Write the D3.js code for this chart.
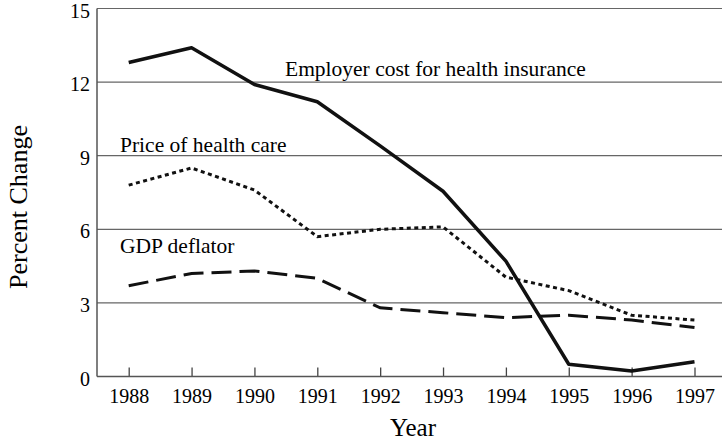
<!DOCTYPE html>
<html>
<head>
<meta charset="utf-8">
<script src="https://cdn.jsdelivr.net/npm/d3@7"></script>
<style>
  body { margin: 0; background: #fff; }
  svg { display: block; font-family: "Liberation Serif", "DejaVu Serif", serif; }
</style>
</head>
<body>
<div id="chart"></div>
<script>
const years = [1988, 1989, 1990, 1991, 1992, 1993, 1994, 1995, 1996, 1997];
const employerCost = [12.8, 13.4, 11.9, 11.2, 9.4, 7.55, 4.7, 0.5, 0.22, 0.6];
const healthPrice = [7.8, 8.5, 7.6, 5.7, 6.0, 6.1, 4.05, 3.5, 2.5, 2.3];
const gdpDeflator = [3.7, 4.2, 4.3, 4.0, 2.8, 2.6, 2.4, 2.5, 2.3, 2.0];
const yTicks = [0, 3, 6, 9, 12, 15];

const width = 722;
const height = 443;
const margin = { top: 8, right: 0, bottom: 66, left: 97 };

const svg = d3.select('#chart')
  .append('svg')
  .attr('width', width)
  .attr('height', height);

const x = d3.scaleLinear()
  .domain([1988, 1997])
  .range([128.7, 694.5]);

const y = d3.scaleLinear()
  .domain([0, 15])
  .range([height - margin.bottom - 0.5, margin.top + 0.5]);

// gridlines
svg.append('g')
  .selectAll('line')
  .data(yTicks.filter(d => d > 0))
  .enter()
  .append('line')
  .attr('x1', margin.left)
  .attr('x2', width)
  .attr('y1', d => y(d))
  .attr('y2', d => y(d))
  .attr('stroke', '#666')
  .attr('stroke-width', 1.2);

// y labels
svg.append('g')
  .selectAll('text')
  .data(yTicks)
  .enter()
  .append('text')
  .attr('x', 90)
  .attr('y', d => y(d) + 9)
  .attr('text-anchor', 'end')
  .style('font-size', '20px')
  .text(d => d);

// x axis
const xAxis = d3.axisBottom(x)
  .tickValues(years)
  .tickFormat(d3.format('d'))
  .tickSize(-9)
  .tickPadding(12);

const gx = svg.append('g')
  .attr('transform', `translate(0,${y(0)})`)
  .call(xAxis);
gx.select('.domain').remove();
gx.selectAll('line').attr('stroke', '#444').attr('stroke-width', 1.3);
gx.selectAll('text')
  .style('font-size', '20px')
  .style('font-family', '"Liberation Serif", serif')
  .attr('fill', '#000');

svg.append('line')
  .attr('x1', margin.left).attr('x2', width)
  .attr('y1', y(0)).attr('y2', y(0))
  .attr('stroke', '#555').attr('stroke-width', 1.5);
svg.append('line')
  .attr('x1', margin.left).attr('x2', margin.left)
  .attr('y1', y(15)).attr('y2', y(0))
  .attr('stroke', '#555').attr('stroke-width', 1.5);

const line = d3.line()
  .x((d, i) => x(years[i]))
  .y(d => y(d));

svg.append('path')
  .datum(gdpDeflator)
  .attr('d', line)
  .attr('fill', 'none')
  .attr('stroke', '#111')
  .attr('stroke-width', 3)
  .attr('stroke-dasharray', '20,8');

svg.append('path')
  .datum(healthPrice)
  .attr('d', line)
  .attr('fill', 'none')
  .attr('stroke', '#111')
  .attr('stroke-width', 3)
  .attr('stroke-dasharray', '4,3.5');

svg.append('path')
  .datum(employerCost)
  .attr('d', line)
  .attr('fill', 'none')
  .attr('stroke', '#111')
  .attr('stroke-width', 3.5)
  .attr('stroke-linejoin', 'round');

// series labels
const labels = [
  { text: 'Employer cost for health insurance', x: 285, y: 76 },
  { text: 'Price of health care', x: 120, y: 152 },
  { text: 'GDP deflator', x: 120, y: 253 }
];
svg.append('g')
  .selectAll('text')
  .data(labels)
  .enter()
  .append('text')
  .attr('x', d => d.x)
  .attr('y', d => d.y)
  .style('font-size', '21.5px')
  .text(d => d.text);

svg.append('text')
  .attr('x', 413)
  .attr('y', 436)
  .attr('text-anchor', 'middle')
  .style('font-size', '25px')
  .text('Year');

svg.append('text')
  .attr('transform', 'translate(27,207) rotate(-90)')
  .attr('text-anchor', 'middle')
  .style('font-size', '26px')
  .text('Percent Change');
</script>
</body>
</html>
